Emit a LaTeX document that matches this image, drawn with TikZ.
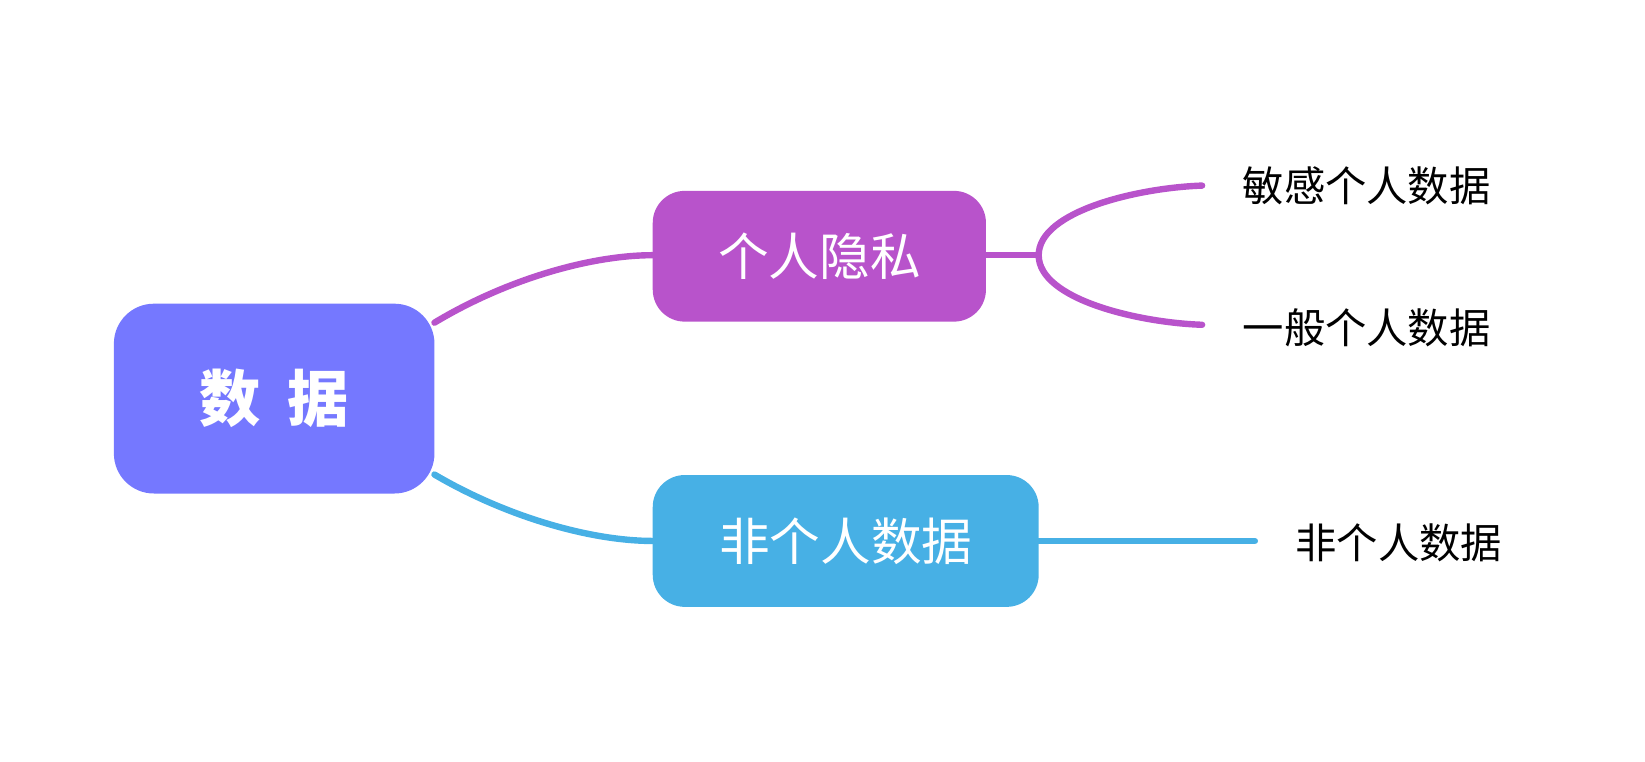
\documentclass[tikz,border=0pt]{standalone}
\usepackage{fontspec}
\setmainfont{Noto Sans CJK SC}
\definecolor{rootblue}{HTML}{7578FF}
\definecolor{privpurple}{HTML}{B853CB}
\definecolor{skyblue}{HTML}{47B0E5}
\tikzset{
  box/.style={rounded corners=30pt, text=white, inner sep=0pt},
  leaf/.style={anchor=west, font=\fontsize{31}{36}\selectfont},
  branch/.style={line width=4.8pt, line cap=round}
}
\begin{document}
\begin{tikzpicture}[x=0.791pt,y=-0.791pt]
  \useasboundingbox (0,0) rectangle (1560,722.6);
  % branches first
  \draw[branch, privpurple] (412,306) .. controls (480,265) and (560,242) .. (619,242);
  \draw[branch, skyblue] (412,450) .. controls (480,490) and (560,513) .. (619,513);
  \draw[branch, privpurple] (935,242) -- (985,242);
  \draw[branch, privpurple] (985,242) .. controls (985,200) and (1080,178) .. (1140,176);
  \draw[branch, privpurple] (985,242) .. controls (985,284) and (1080,306) .. (1140,308);
  \draw[branch, skyblue] (985,513) -- (1190,513);
  % boxes
  \node[box, fill=rootblue, minimum width=304*0.791pt, minimum height=180*0.791pt,
        font=\fontsize{46}{50}\selectfont\bfseries] (root) at (260,378) {数\hspace{0.45em}据};
  \node[box, fill=privpurple, rounded corners=24pt, minimum width=316*0.791pt, minimum height=124*0.791pt,
        font=\fontsize{38}{42}\selectfont] (priv) at (777,243) {个人隐私};
  \node[box, fill=skyblue, rounded corners=24pt, minimum width=366*0.791pt, minimum height=125*0.791pt,
        font=\fontsize{38}{42}\selectfont] (nonpriv) at (802,513) {非个人数据};
  % leaves
  \node[leaf] (sens) at (1174,176) {敏感个人数据};
  \node[leaf] (gen) at (1174,311) {一般个人数据};
  \node[leaf] (non) at (1224,515) {非个人数据};
\end{tikzpicture}
\end{document}
